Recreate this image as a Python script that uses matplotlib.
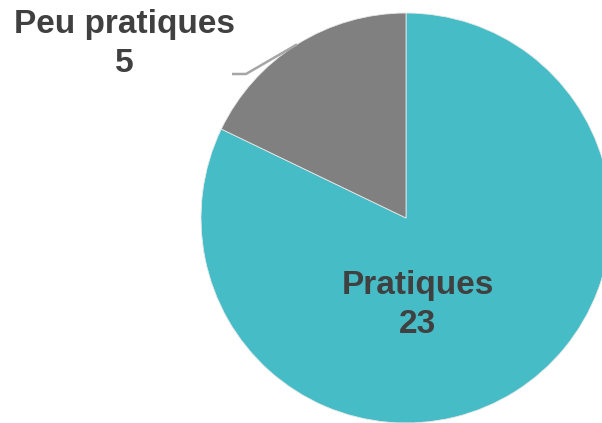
import numpy as np
import matplotlib.pyplot as plt

labels = ["Pratiques", "Peu pratiques"]
values = [23, 5]
colors = ["#45BCC6", "#808080"]

W, H = 602, 423
fig = plt.figure(figsize=(W / 100, H / 100), dpi=100)
ax = fig.add_axes([0, 0, 1, 1])

cx, cy, r = 406, H - 218, 205
ax.pie(values, colors=colors, startangle=90, counterclock=False,
       center=(cx, cy), radius=r, frame=True,
       wedgeprops=dict(linewidth=0.6, edgecolor="#e8e8e8"))
ax.set_xlim(0, W)
ax.set_ylim(0, H)
ax.set_aspect("equal")
ax.axis("off")

txt = dict(ha="center", va="center", fontsize=24, fontweight="bold",
           color="#404040", family=["Liberation Sans", "DejaVu Sans"],
           linespacing=1.35)
ax.text(418, H - 305, f"{labels[0]}\n{values[0]}", **txt)
ax.text(124, H - 44, f"{labels[1]}\n{values[1]}", **txt)

# leader line to middle of small wedge
total = sum(values)
mid = np.deg2rad(90 + 360 * values[1] / total / 2)
ex, ey = cx + r * np.cos(mid), cy + r * np.sin(mid)
ax.plot([232, 246, ex], [H - 74, H - 74, ey], color="#A6A6A6", lw=1.8,
        solid_capstyle="butt")

fig.savefig("out.png", dpi=100)
